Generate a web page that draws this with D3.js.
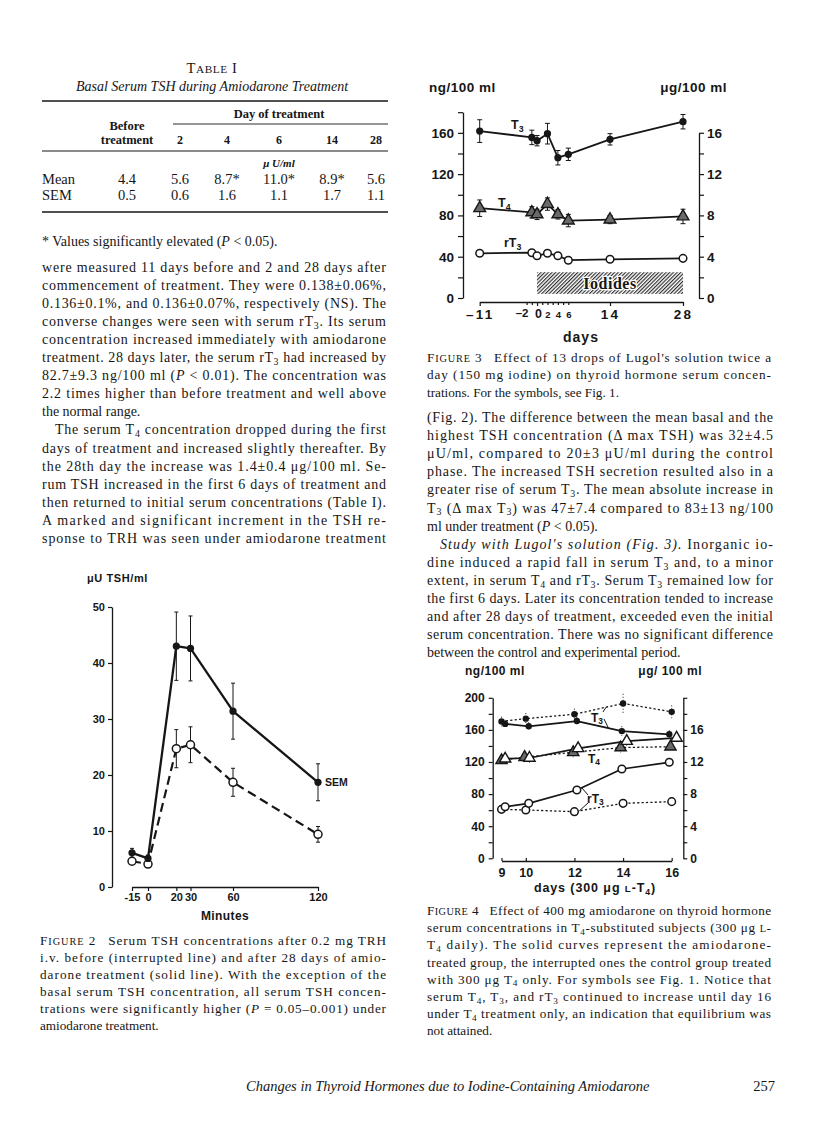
<!DOCTYPE html>
<html><head><meta charset="utf-8">
<script src="https://cdn.jsdelivr.net/npm/d3@7"></script>
<style>body{margin:0;background:#fff}svg{display:block}</style>
</head><body>
<svg id="page" width="816" height="1144"></svg>
<script>
// ================= DATA =================
// Table I
const tableDays = ["2", "4", "6", "14", "28"];
const tableMean = ["4.4", "5.6", "8.7*", "11.0*", "8.9*", "5.6"];
const tableSEM = ["0.5", "0.6", "1.6", "1.1", "1.7", "1.1"];

// Figure 2 (µU TSH/ml vs minutes after TRH)
const fig2Minutes = [-15, 0, 20, 30, 60, 120];
const fig2Amio = [6.1, 5.1, 43.0, 42.6, 31.4, 18.7];
const fig2AmioSem = [0.8, 0.6, 6.1, 5.8, 5.0, 3.3];
const fig2Before = [4.6, 4.1, 24.7, 25.4, 18.7, 9.4];
const fig2BeforeSem = [0.5, 0.5, 3.4, 3.2, 2.5, 1.4];
const fig2YTicks = [0, 10, 20, 30, 40, 50];

// Figure 3 (Lugol's solution)
const fig3Days = [-11, -1, 0, 2, 4, 6, 14, 28];
const fig3T3 = [161.7, 155.6, 152.4, 159.2, 135.9, 139.2, 153.7, 170.8];      // ng/100 ml
const fig3T3Sem = [11, 7, 5, 10, 7, 6, 5.5, 7];
const fig3T4 = [8.7, 8.3, 8.1, 9.1, 8.1, 7.5, 7.6, 7.9];                      // µg/100 ml
const fig3T4Sem = [0.8, 0.55, 0.5, 0.6, 0.45, 0.6, 0.4, 0.7];
const fig3rT3 = [43.3, 43.9, 41.0, 43.3, 41.0, 36.6, 37.5, 38.4];             // ng/100 ml
const fig3XTicks = [-11, -2, -1, 0, 1, 2, 3, 4, 5, 6, 14, 28];
const fig3XLabels = [-11, -2, 0, 2, 4, 6, 14, 28];
const fig3IodidePeriod = [0, 28];
const fig3IodideBand = [4, 25];

// Figure 4 (T4-substituted subjects, amiodarone vs control)
const fig4AmioDays = [9.15, 10.12, 12.1, 13.95, 15.9];
const fig4CtrlDays = [9, 10, 12, 14, 16];
const fig4T3Amio = [167.5, 164.5, 171, 158.5, 154.5];
const fig4T3AmioSem = [5, 5, 5, 6, 5];
const fig4T3Ctrl = [170.5, 174, 179.5, 193, 182.5];
const fig4T3CtrlSem = [6, 7, 7, 12, 8];
const fig4T4AmioDays = [9.15, 10.15, 12.15, 14.15, 16.2];
const fig4T4CtrlDays = [9, 9.95, 11.95, 13.9, 15.95];
const fig4T4Amio = [12.4, 12.5, 13.7, 14.6, 15.0];   // µg/100 ml
const fig4T4Ctrl = [12.2, 12.6, 13.2, 13.8, 13.9];
const fig4T4Sem = [0.5, 0.6, 0.6, 0.6, 0.5];
const fig4rT3Amio = [64.3, 68.5, 85.1, 111.3, 119.6];
const fig4rT3Ctrl = [61, 60.2, 58.1, 68.5, 70.6];
const fig4rT3Sem = [4, 5, 5, 5, 5];
const fig4XTicks = [9, 10, 12, 14, 16];

// Text
const leftParagraphs = [
  {indent: false, continues: false, lines: [
    "were measured 11 days before and 2 and 28 days after",
    "commencement of treatment. They were 0.138±0.06%,",
    "0.136±0.1%, and 0.136±0.07%, respectively (NS). The",
    "converse changes were seen with serum rT{3}. Its serum",
    "concentration increased immediately with amiodarone",
    "treatment. 28 days later, the serum rT{3} had increased by",
    "82.7±9.3 ng/100 ml (~P~ < 0.01). The concentration was",
    "2.2 times higher than before treatment and well above",
    "the normal range."]},
  {indent: true, continues: true, lines: [
    "The serum T{4} concentration dropped during the first",
    "days of treatment and increased slightly thereafter. By",
    "the 28th day the increase was 1.4±0.4 μg/100 ml. Se-",
    "rum TSH increased in the first 6 days of treatment and",
    "then returned to initial serum concentrations (Table I).",
    "A marked and significant increment in the TSH re-",
    "sponse to TRH was seen under amiodarone treatment"]}
];
const rightParagraphs = [
  {indent: false, continues: false, lines: [
    "(Fig. 2). The difference between the mean basal and the",
    "highest TSH concentration (Δ max TSH) was 32±4.5",
    "μU/ml, compared to 20±3 μU/ml during the control",
    "phase. The increased TSH secretion resulted also in a",
    "greater rise of serum T{3}. The mean absolute increase in",
    "T{3} (Δ max T{3}) was 47±7.4 compared to 83±13 ng/100",
    "ml under treatment (~P~ < 0.05)."]},
  {indent: true, continues: false, lines: [
    "~Study with Lugol's solution (Fig. 3).~  Inorganic io-",
    "dine induced a rapid fall in serum T{3} and, to a minor",
    "extent, in serum T{4} and rT{3}. Serum T{3} remained low for",
    "the first 6 days. Later its concentration tended to increase",
    "and after 28 days of treatment, exceeded even the initial",
    "serum concentration. There was no significant difference",
    "between the control and experimental period."]}
];
const fig2Caption = [
  "^Figure 2^\u2002 Serum TSH concentrations after 0.2 mg TRH",
  "i.v. before (interrupted line) and after 28 days of amio-",
  "darone treatment (solid line). With the exception of the",
  "basal serum TSH concentration, all serum TSH concen-",
  "trations were significantly higher (~P~ = 0.05–0.001) under",
  "amiodarone treatment."];
const fig3Caption = [
  "^Figure 3^\u2002 Effect of 13 drops of Lugol's solution twice a",
  "day (150 mg iodine) on thyroid hormone serum concen-",
  "trations. For the symbols, see Fig. 1."];
const fig4Caption = [
  "^Figure 4^\u2002 Effect of 400 mg amiodarone on thyroid hormone",
  "serum concentrations in T{4}-substituted subjects (300 μg ^l^-",
  "T{4} daily). The solid curves represent the amiodarone-",
  "treated group, the interrupted ones the control group treated",
  "with 300 μg T{4} only. For symbols see Fig. 1. Notice that",
  "serum T{4}, T{3}, and rT{3} continued to increase until day 16",
  "under T{4} treatment only, an indication that equilibrium was",
  "not attained."];
const footerTitle = "Changes in Thyroid Hormones due to Iodine-Containing Amiodarone";
const pageNumber = "257";

// ================= HELPERS =================
const svg = d3.select("#page");
svg.append("rect").attr("width", 816).attr("height", 1144).attr("fill", "#fff");
const SERIF = "'Liberation Serif','Times New Roman',serif";
const SANS = "'Liberation Sans',Arial,sans-serif";
const INK = "#161616";

function rich(t, str, size) {
  const parts = str.split(/(\{[^}]*\}|~[^~]*~|\^[^^]*\^)/).filter(s => s.length);
  let pend = 0;
  const add = (txt, attrs) => {
    const ts = t.append("tspan").text(txt);
    attrs = attrs || {};
    Object.keys(attrs).forEach(k => ts.attr(k, attrs[k]));
    if (pend && attrs.dy === undefined) { ts.attr("dy", pend); pend = 0; }
    return ts;
  };
  parts.forEach(p => {
    const inner = p.slice(1, -1);
    if (p[0] === "{") {
      const d = size * 0.2;
      add(inner, {"font-size": size * 0.7, dy: pend + d}); pend = -d;
    } else if (p[0] === "~") {
      add(inner, {"font-style": "italic"});
    } else if (p[0] === "^") {
      (inner.match(/[a-z]+|[^a-z]+/g) || []).forEach(r => {
        if (/[a-z]/.test(r)) add(r.toUpperCase(), {"font-size": size * 0.78});
        else add(r);
      });
    } else add(p);
  });
}
function textLine(parent, str, x, y, opt) {
  opt = opt || {};
  const size = opt.size || 13;
  const t = parent.append("text").attr("x", x).attr("y", y)
    .attr("font-family", opt.family || SERIF).attr("font-size", size).attr("fill", INK);
  if (opt.anchor) t.attr("text-anchor", opt.anchor);
  if (opt.weight) t.attr("font-weight", opt.weight);
  if (opt.italic) t.attr("font-style", "italic");
  if (opt.ls) t.attr("letter-spacing", opt.ls);
  if (opt.width) t.attr("textLength", opt.width).attr("lengthAdjust", "spacing");
  rich(t, str, size);
  return t;
}
function paragraphBlock(g, paras, x, y0, lh, width, size) {
  let y = y0;
  paras.forEach(p => {
    p.lines.forEach((ln, i) => {
      const last = i === p.lines.length - 1;
      const ind = (i === 0 && p.indent) ? 13 : 0;
      const justify = !last || p.continues;
      textLine(g, ln, x + ind, y, {size: size, width: justify ? width - ind : null});
      y += lh;
    });
  });
}
function captionBlock(g, lines, x, y0, lh, width, size) {
  lines.forEach((ln, i) => {
    const last = i === lines.length - 1;
    textLine(g, ln, x, y0 + i * lh, {size: size, width: last ? null : width});
  });
}
function hline(g, x1, x2, y, w) {
  g.append("line").attr("x1", x1).attr("x2", x2).attr("y1", y).attr("y2", y)
    .attr("stroke", INK).attr("stroke-width", w || 1);
}
function styleAxis(ax, size, weight) {
  ax.selectAll("path.domain").attr("stroke", INK).attr("stroke-width", 1.3);
  ax.selectAll(".tick line").attr("stroke", INK).attr("stroke-width", 1.2);
  ax.selectAll(".tick text").attr("fill", INK).attr("font-family", SANS)
    .attr("font-size", size).attr("font-weight", weight || "bold");
  ax.attr("font-family", SANS);
}
function seriesLine(g, xs, ys, xS, yS, opt) {
  const pts = xs.map((x, i) => [x, ys[i]]);
  g.append("path").datum(pts)
    .attr("d", d3.line().x(d => xS(d[0])).y(d => yS(d[1])))
    .attr("fill", "none").attr("stroke", INK).attr("stroke-width", opt.lw || 1.8)
    .attr("stroke-dasharray", opt.dash || null).attr("stroke-linejoin", "round");
}
function errorBars(g, xs, ys, es, xS, yS, opt) {
  opt = opt || {};
  const cap = opt.cap === undefined ? 2.5 : opt.cap;
  xs.forEach((x, i) => {
    const cx = xS(x), y1 = yS(ys[i] + es[i]), y2 = yS(ys[i] - es[i]);
    g.append("line").attr("x1", cx).attr("x2", cx).attr("y1", y1).attr("y2", y2)
      .attr("stroke", INK).attr("stroke-width", opt.lw || 1)
      .attr("stroke-dasharray", opt.dash || null);
    if (cap > 0) {
      [y1, y2].forEach(yy => g.append("line").attr("x1", cx - cap).attr("x2", cx + cap)
        .attr("y1", yy).attr("y2", yy).attr("stroke", INK).attr("stroke-width", 1));
    }
  });
}
function markers(g, xs, ys, xS, yS, kind, r) {
  xs.forEach((x, i) => {
    const cx = xS(x), cy = yS(ys[i]);
    if (kind === "filled") {
      g.append("circle").attr("cx", cx).attr("cy", cy).attr("r", r).attr("fill", INK);
    } else if (kind === "open") {
      g.append("circle").attr("cx", cx).attr("cy", cy).attr("r", r)
        .attr("fill", "#fff").attr("stroke", INK).attr("stroke-width", 1.5);
    } else {
      const fill = kind === "triGray" ? "#6a6a6a" : "#fff";
      g.append("path").attr("d", d3.symbol(d3.symbolTriangle).size(r)())
        .attr("transform", `translate(${cx},${cy})`)
        .attr("fill", fill).attr("stroke", INK).attr("stroke-width", 1.4);
    }
  });
}

// ================= TABLE I =================
const tbl = svg.append("g");
textLine(tbl, "^Table I^", 212, 73, {anchor: "middle", size: 14.5, ls: 0.6});
textLine(tbl, "Basal Serum TSH during Amiodarone Treatment", 212, 91, {anchor: "middle", italic: true, size: 14});
hline(tbl, 42, 388, 101, 1.4);
textLine(tbl, "Day of treatment", 279, 118, {anchor: "middle", size: 12.5, weight: "bold"});
hline(tbl, 173, 388, 124, 0.9);
textLine(tbl, "Before", 127, 130, {anchor: "middle", size: 12.5, weight: "bold"});
textLine(tbl, "treatment", 127, 144, {anchor: "middle", size: 12.5, weight: "bold"});
const colX = [127, 180, 227, 279, 332, 376];
tableDays.forEach((d, i) => textLine(tbl, d, colX[i + 1], 144, {anchor: "middle", size: 12, weight: "bold"}));
hline(tbl, 42, 388, 151, 1);
textLine(tbl, "μ U/ml", 279, 167, {anchor: "middle", size: 11, italic: true, weight: "bold"});
textLine(tbl, "Mean", 42, 184, {size: 14.5});
textLine(tbl, "SEM", 42, 200, {size: 14.5});
tableMean.forEach((v, i) => textLine(tbl, v, colX[i], 184, {anchor: "middle", size: 14.5}));
tableSEM.forEach((v, i) => textLine(tbl, v, colX[i], 200, {anchor: "middle", size: 14.5}));
hline(tbl, 42, 388, 212, 1.4);
textLine(tbl, "* Values significantly elevated (~P~ < 0.05).", 42, 246, {size: 14});

// ================= TEXT BODY =================
const body = svg.append("g");
paragraphBlock(body, leftParagraphs, 42, 272, 18.05, 344, 14);
paragraphBlock(body, rightParagraphs, 427, 422, 18.1, 346, 14);
captionBlock(body, fig3Caption, 427, 362, 17.3, 344, 13.2);
captionBlock(body, fig4Caption, 427, 915, 17.2, 344, 13.2);
captionBlock(body, fig2Caption, 40, 945, 17.0, 346, 13.2);
textLine(body, footerTitle, 246, 1091, {italic: true, size: 14.5});
textLine(body, pageNumber, 775, 1091, {size: 14.5, anchor: "end"});

// ================= FIGURE 2 =================
const g2 = svg.append("g");
const x2 = d3.scaleLinear().domain([-15, 0, 120]).range([132, 148, 318]);
const y2 = d3.scaleLinear().domain([0, 50]).range([887, 607]);
const ax2y = g2.append("g").attr("transform", "translate(112,0)")
  .call(d3.axisLeft(y2).tickValues(fig2YTicks).tickSize(4).tickSizeOuter(0).tickPadding(3));
styleAxis(ax2y, 11);
const ax2x = g2.append("g").attr("transform", "translate(0,887)")
  .call(d3.axisBottom(x2).tickValues(fig2Minutes).tickSize(4).tickSizeOuter(0).tickPadding(2)
    .tickFormat(d => d < 0 ? "-" + Math.abs(d) : d));
styleAxis(ax2x, 11);
textLine(g2, "μU TSH/ml", 87, 582, {family: SANS, size: 11, weight: "bold", ls: 0.6});
textLine(g2, "Minutes", 225, 920, {family: SANS, size: 12, weight: "bold", anchor: "middle", ls: 0.4});
seriesLine(g2, fig2Minutes, fig2Before, x2, y2, {lw: 2.2, dash: "9,5"});
seriesLine(g2, fig2Minutes, fig2Amio, x2, y2, {lw: 2.3});
errorBars(g2, fig2Minutes, fig2Before, fig2BeforeSem, x2, y2, {cap: 2});
errorBars(g2, fig2Minutes, fig2Amio, fig2AmioSem, x2, y2, {cap: 2});
markers(g2, fig2Minutes, fig2Before, x2, y2, "open", 4);
markers(g2, fig2Minutes, fig2Amio, x2, y2, "filled", 3.6);
textLine(g2, "SEM", x2(120) + 7, y2(fig2Amio[5]) + 4, {family: SANS, size: 10.5, weight: "bold"});

// ================= FIGURE 3 =================
const g3 = svg.append("g");
const defs = svg.append("defs");
const pat = defs.append("pattern").attr("id", "hatch").attr("patternUnits", "userSpaceOnUse")
  .attr("width", 2.6).attr("height", 2.6).attr("patternTransform", "rotate(45)");
pat.append("rect").attr("width", 2.6).attr("height", 2.6).attr("fill", "#fff");
pat.append("line").attr("x1", 0.6).attr("x2", 0.6).attr("y1", 0).attr("y2", 2.6)
  .attr("stroke", "#222").attr("stroke-width", 1.1);

const x3 = d3.scaleLinear().domain([-11, 28]).range([479.7, 683]);
const y3 = d3.scaleLinear().domain([0, 180]).range([298, 112.2]);
const y3r = d3.scaleLinear().domain([0, 16]).range([298, 132.8]);
const ax3l = g3.append("g").attr("transform", "translate(463,0)")
  .call(d3.axisLeft(y3).tickValues(d3.range(0, 181, 20)).tickSize(5).tickSizeOuter(0).tickPadding(4)
    .tickFormat(d => d % 40 === 0 ? d : ""));
styleAxis(ax3l, 13.5);
const ax3r = g3.append("g").attr("transform", "translate(699,0)")
  .call(d3.axisRight(y3r).tickValues(d3.range(0, 17, 2)).tickSize(5).tickSizeOuter(0).tickPadding(3)
    .tickFormat(d => d % 4 === 0 ? d : ""));
styleAxis(ax3r, 13.5);
const ax3x = g3.append("g").attr("transform", "translate(0,302)")
  .call(d3.axisBottom(x3).tickValues(fig3XTicks).tickSize(4).tickSizeOuter(0).tickPadding(3)
    .tickFormat(d => fig3XLabels.includes(d) ? (d < 0 ? "–" + Math.abs(d) : d) : ""));
styleAxis(ax3x, 13.5);
ax3x.selectAll(".tick line").filter(d => d > -11 && d < 14 && d !== 0).attr("y2", 3);
ax3x.selectAll(".tick text").each(function(d) {
  const s = d3.select(this);
  if (d >= 1 && d <= 6) s.attr("font-size", 9.5).attr("dy", "0.9em");
  else if (d === -2 || d === 0) s.attr("font-size", 12.5);
  else s.attr("letter-spacing", 2.2);
  if (d === -2) s.attr("dx", -5).attr("font-size", 11.5);
  if (d === 0) s.attr("dx", 1);
});
textLine(g3, "ng/100 ml", 429, 92, {family: SANS, size: 13.5, weight: "bold", ls: 0.5});
textLine(g3, "μg/100 ml", 727, 92, {family: SANS, size: 13.5, weight: "bold", anchor: "end", ls: 0.5});
textLine(g3, "days", 581, 342, {family: SANS, size: 14, weight: "bold", anchor: "middle", ls: 1});

// iodides band
g3.append("rect").attr("x", x3(fig3IodidePeriod[0])).attr("width", x3(fig3IodidePeriod[1]) - x3(fig3IodidePeriod[0]))
  .attr("y", y3(fig3IodideBand[1])).attr("height", y3(fig3IodideBand[0]) - y3(fig3IodideBand[1]))
  .attr("fill", "url(#hatch)");
g3.append("text").attr("x", x3(14)).attr("y", y3((fig3IodideBand[0] + fig3IodideBand[1]) / 2) + 5.5)
  .attr("text-anchor", "middle").attr("font-family", SERIF).attr("font-weight", "bold")
  .attr("font-size", 16).attr("letter-spacing", 0.5).attr("fill", INK)
  .attr("stroke", "#fff").attr("stroke-width", 2.5).attr("paint-order", "stroke").text("Iodides");

const t4ng = fig3T4.map(v => v * 10);
const t4semNg = fig3T4Sem.map(v => v * 10);
seriesLine(g3, fig3Days, fig3T3, x3, y3, {lw: 1.8});
seriesLine(g3, fig3Days, t4ng, x3, y3, {lw: 1.8});
seriesLine(g3, fig3Days, fig3rT3, x3, y3, {lw: 1.8});
errorBars(g3, fig3Days, fig3T3, fig3T3Sem, x3, y3, {cap: 2.5});
errorBars(g3, fig3Days, t4ng, t4semNg, x3, y3, {cap: 2.5});
markers(g3, fig3Days, fig3T3, x3, y3, "filled", 3.6);
markers(g3, fig3Days, t4ng, x3, y3, "triGray", 60);
markers(g3, fig3Days, fig3rT3, x3, y3, "open", 3.8);
textLine(g3, "T{3}", 511, 129, {family: SANS, size: 12.5, weight: "bold"});
textLine(g3, "T{4}", 498, 207, {family: SANS, size: 12.5, weight: "bold"});
textLine(g3, "rT{3}", 504, 247, {family: SANS, size: 12.5, weight: "bold"});

// ================= FIGURE 4 =================
const g4 = svg.append("g");
const x4 = d3.scaleLinear().domain([9, 16]).range([501.5, 671.7]);
const y4 = d3.scaleLinear().domain([0, 200]).range([858.3, 697.8]);
const y4r = d3.scaleLinear().domain([0, 20]).range([858.3, 697.8]);
const ax4l = g4.append("g").attr("transform", "translate(492.7,0)")
  .call(d3.axisLeft(y4).tickValues(d3.range(0, 201, 20)).tickSize(4).tickSizeOuter(0).tickPadding(4)
    .tickFormat(d => d % 40 === 0 ? d : ""));
styleAxis(ax4l, 12);
const ax4r = g4.append("g").attr("transform", "translate(683.3,0)")
  .call(d3.axisRight(y4r).tickValues(d3.range(0, 21, 2)).tickSize(4).tickSizeOuter(0).tickPadding(3)
    .tickFormat(d => (d % 4 === 0 && d < 20) ? d : ""));
styleAxis(ax4r, 12);
const ax4x = g4.append("g").attr("transform", "translate(0,861)")
  .call(d3.axisBottom(x4).tickValues(fig4XTicks).tickSize(0).tickSizeOuter(0).tickPadding(7)
    .tickFormat(d3.format("d")));
styleAxis(ax4x, 12.5);
ax4x.selectAll(".tick line").attr("y1", -3).attr("y2", 0);
textLine(g4, "ng/100 ml", 465, 675, {family: SANS, size: 12, weight: "bold", ls: 0.5});
textLine(g4, "μg/ 100 ml", 702, 675, {family: SANS, size: 12, weight: "bold", anchor: "end", ls: 0.5});
textLine(g4, "days (300 μg ^l^-T{4})", 595, 892, {family: SANS, size: 12.5, weight: "bold", anchor: "middle", ls: 0.9});

const t4aNg = fig4T4Amio.map(v => v * 10), t4cNg = fig4T4Ctrl.map(v => v * 10);
const t4SemNg = fig4T4Sem.map(v => v * 10);
const dots = "2.2,2.2";
seriesLine(g4, fig4CtrlDays, fig4T3Ctrl, x4, y4, {lw: 1.3, dash: dots});
seriesLine(g4, fig4AmioDays, fig4T3Amio, x4, y4, {lw: 1.7});
seriesLine(g4, fig4T4CtrlDays, t4cNg, x4, y4, {lw: 1.3, dash: dots});
seriesLine(g4, fig4T4AmioDays, t4aNg, x4, y4, {lw: 1.7});
seriesLine(g4, fig4CtrlDays, fig4rT3Ctrl, x4, y4, {lw: 1.3, dash: dots});
seriesLine(g4, fig4AmioDays, fig4rT3Amio, x4, y4, {lw: 1.7});
const eopt = {cap: 0, lw: 1, dash: "1,2"};
errorBars(g4, fig4CtrlDays, fig4T3Ctrl, fig4T3CtrlSem, x4, y4, eopt);
errorBars(g4, fig4AmioDays, fig4T3Amio, fig4T3AmioSem, x4, y4, eopt);
errorBars(g4, fig4T4CtrlDays, t4cNg, t4SemNg, x4, y4, eopt);
errorBars(g4, fig4T4AmioDays, t4aNg, t4SemNg, x4, y4, eopt);
errorBars(g4, fig4CtrlDays, fig4rT3Ctrl, fig4rT3Sem, x4, y4, eopt);
errorBars(g4, fig4AmioDays, fig4rT3Amio, fig4rT3Sem, x4, y4, eopt);
markers(g4, fig4CtrlDays, fig4T3Ctrl, x4, y4, "filled", 3.2);
markers(g4, fig4AmioDays, fig4T3Amio, x4, y4, "filled", 3.2);
markers(g4, fig4T4CtrlDays, t4cNg, x4, y4, "triGray", 55);
markers(g4, fig4T4AmioDays, t4aNg, x4, y4, "tri", 55);
markers(g4, fig4CtrlDays, fig4rT3Ctrl, x4, y4, "open", 3.8);
markers(g4, fig4AmioDays, fig4rT3Amio, x4, y4, "open", 3.8);

// labels with leader lines
const interp = (xs, ys, x) => d3.scaleLinear().domain(xs).range(ys)(x);
textLine(g4, "T{3}", 591, 722, {family: SANS, size: 12, weight: "bold"});
g4.append("path").attr("d", `M${603},${712} L${x4(13.3)},${y4(interp(fig4CtrlDays, fig4T3Ctrl, 13.3))}`)
  .attr("stroke", INK).attr("fill", "none").attr("stroke-width", 1);
g4.append("path").attr("d", `M${604},${719} L${x4(13.4)},${y4(interp(fig4AmioDays, fig4T3Amio, 13.4))}`)
  .attr("stroke", INK).attr("fill", "none").attr("stroke-width", 1);
textLine(g4, "T{4}", 588, 763, {family: SANS, size: 12, weight: "bold"});
textLine(g4, "rT{3}", 587, 803, {family: SANS, size: 12, weight: "bold"});
g4.append("path").attr("d", `M${588},${795} L${x4(12.3)},${y4(interp(fig4AmioDays, fig4rT3Amio, 12.3))}`)
  .attr("stroke", INK).attr("fill", "none").attr("stroke-width", 1);
g4.append("path").attr("d", `M${588},${803} L${x4(12.2)},${y4(interp(fig4CtrlDays, fig4rT3Ctrl, 12.2))}`)
  .attr("stroke", INK).attr("fill", "none").attr("stroke-width", 1);
</script>
</body></html>
